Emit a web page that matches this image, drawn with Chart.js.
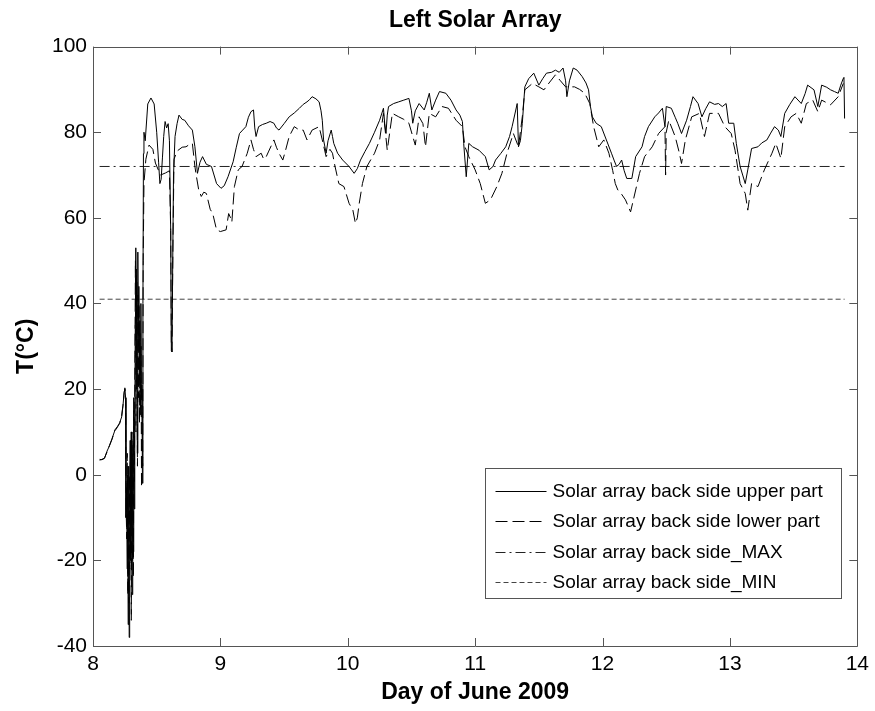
<!DOCTYPE html>
<html><head><meta charset="utf-8">
<script src="https://cdn.jsdelivr.net/npm/chart.js@4"></script>
<style>html,body{margin:0;padding:0;background:#fff}#wrap{width:875px;height:711px}</style>
</head><body><div id="wrap"><canvas id="c" width="875" height="711"></canvas></div>
<script>
// ---- data (day of June 2009, temperature °C) ----
const upperPart = [
[8.052,3.6],[8.07,3.5],[8.09,3.8],[8.11,5.5],[8.13,6.8],[8.15,8.5],[8.17,10.2],[8.19,11],[8.21,12.2],[8.225,13.5],[8.235,16],[8.245,19.5],[8.25,20.3],
[8.256,18],[8.259,-10],[8.264,-3],[8.268,-22],[8.272,0],[8.276,-35],[8.28,2],[8.284,-38],[8.288,-5],[8.292,8],[8.296,-20],[8.3,10],[8.304,-12],[8.308,-28],
[8.312,5],[8.316,-18],[8.32,18],[8.324,-8],[8.328,12],[8.332,35],[8.336,53],[8.34,20],[8.344,45],[8.348,5],[8.352,52],[8.356,30],[8.36,44],[8.364,22],
[8.368,36],[8.372,14],[8.376,40],[8.38,18],[8.384,21],[8.388,-2],[8.392,40],[8.396,75],[8.4,80],[8.41,78],[8.43,86.6],[8.455,88],[8.48,86.6],[8.5,80],
[8.515,73],[8.525,68],[8.535,69],[8.545,74],[8.555,79],[8.566,82.5],[8.578,81],[8.59,82],[8.6,78],[8.61,57],[8.615,29],[8.62,28.7],[8.626,50],[8.632,70],
[8.644,79],[8.66,82],[8.675,84],[8.7,83],[8.72,82.8],[8.75,81.5],[8.78,80.5],[8.8,76.6],[8.82,70.4],[8.84,73],[8.86,74.3],[8.89,72.5],[8.93,72],[8.97,68],
[9.005,66.9],[9.03,67.5],[9.06,69.6],[9.1,73.1],[9.125,76.5],[9.15,79.7],[9.175,80.5],[9.2,81.3],[9.22,83.5],[9.24,84.8],[9.26,85.2],[9.27,81],[9.28,79],
[9.3,81.3],[9.33,81.8],[9.36,82.1],[9.39,82.5],[9.42,82.1],[9.44,81],[9.46,80.5],[9.5,82],[9.54,83.6],[9.58,84.5],[9.62,85.6],[9.65,86.5],[9.68,87.1],
[9.7,87.6],[9.72,88.3],[9.75,87.8],[9.775,87.1],[9.79,85],[9.8,82.8],[9.81,78.2],[9.83,75.1],[9.845,78],[9.87,80.5],[9.88,79],[9.89,77.4],[9.92,75.1],
[9.96,73.5],[10.01,72],[10.05,70.4],[10.075,71.5],[10.1,73.5],[10.135,75.5],[10.17,77.4],[10.21,80],[10.25,82.8],[10.28,85.6],[10.29,82],[10.3,79.7],
[10.31,84],[10.32,86],[10.36,86.7],[10.4,87.1],[10.44,87.5],[10.48,87.9],[10.5,85],[10.51,82.1],[10.53,85],[10.56,86.7],[10.6,85.2],[10.62,87],[10.64,89.1],
[10.66,85.2],[10.69,87.5],[10.72,89.5],[10.77,89.1],[10.81,87.5],[10.85,85.2],[10.88,84],[10.9,82.5],[10.91,77.4],[10.93,69.6],[10.95,77.4],[10.98,76.6],
[11.03,75.8],[11.08,74.3],[11.11,71.2],[11.14,72],[11.16,73.5],[11.2,75],[11.24,76.6],[11.27,79],[11.29,81.3],[11.33,86.7],[11.34,76.6],[11.355,78],
[11.37,82],[11.39,90.6],[11.42,92.5],[11.46,93.8],[11.5,91],[11.53,92.5],[11.56,93.8],[11.6,94],[11.63,94.5],[11.66,94],[11.69,95],[11.71,92],[11.72,88.3],
[11.74,92],[11.77,95],[11.8,94.5],[11.84,93],[11.87,91.5],[11.89,89.9],[11.905,86],[11.92,83.6],[11.95,82.1],[11.99,81.3],[12.03,78.2],[12.07,75.1],
[12.09,73.5],[12.11,72],[12.13,72.5],[12.15,73.5],[12.17,71],[12.19,69.2],[12.23,69.2],[12.26,74.3],[12.31,76.6],[12.33,79],[12.36,81.3],[12.41,83.6],
[12.44,84.5],[12.47,85.6],[12.49,81.3],[12.5,86],[12.54,85.6],[12.57,83.5],[12.59,82.1],[12.62,79.7],[12.66,82.8],[12.69,86],[12.71,88.3],[12.75,86.7],
[12.78,83.6],[12.81,85.5],[12.84,87.1],[12.88,86.5],[12.91,86.7],[12.94,86],[12.97,86.7],[12.99,82.1],[13.03,82.1],[13.05,77.4],[13.08,72],[13.1,70],
[13.12,68],[13.14,71.2],[13.17,76.2],[13.22,76.6],[13.25,77.5],[13.29,78.2],[13.32,79.8],[13.35,81.3],[13.38,80.5],[13.4,79],[13.43,84.4],[13.47,86.5],
[13.51,88.3],[13.56,86.7],[13.59,89],[13.61,91],[13.66,89.9],[13.69,86],[13.72,91],[13.76,90.5],[13.79,89.9],[13.82,89.5],[13.85,89.1],[13.87,91],
[13.89,92.6],[13.895,92.8],[13.9,83.2]
];
const lowerPart = [
[8.052,3.4],[8.07,3.6],[8.09,3.9],[8.11,5.3],[8.13,6.9],[8.15,8.3],[8.17,10.4],[8.19,11.2],[8.21,12],[8.225,13.8],[8.235,16.2],[8.245,19.2],[8.25,20],
[8.256,17],[8.26,-8],[8.265,-15],[8.269,5],[8.273,-28],[8.277,-8],[8.281,-30],[8.285,0],[8.289,-22],[8.293,3],[8.297,-16],[8.301,-34],[8.305,10],
[8.309,-20],[8.313,8],[8.317,-24],[8.321,15],[8.325,-2],[8.329,28],[8.333,50],[8.337,10],[8.341,48],[8.345,25],[8.349,2],[8.353,42],[8.357,18],
[8.361,40],[8.365,12],[8.369,33],[8.373,15],[8.377,30],[8.381,-3],[8.385,20],[8.39,2],[8.394,50],[8.4,68],[8.415,73.7],[8.44,77],[8.47,76],[8.49,72.8],
[8.53,70],[8.57,70.5],[8.6,71],[8.61,57],[8.615,30],[8.62,29],[8.628,55],[8.636,73.7],[8.66,75.6],[8.7,76.5],[8.73,76.6],[8.75,77],[8.78,77.4],[8.8,72],
[8.81,70],[8.83,66.5],[8.85,65],[8.87,66],[8.89,65.7],[8.92,62],[8.94,61],[8.97,57.2],[9,56.8],[9.045,57.2],[9.065,61],[9.08,60],[9.09,59],[9.11,67.3],
[9.14,71.2],[9.17,72],[9.19,73.5],[9.21,75],[9.24,78.2],[9.26,76],[9.28,74.3],[9.32,75.1],[9.34,73.7],[9.36,74.3],[9.38,75.6],[9.42,78.2],[9.44,76.5],
[9.46,75.1],[9.49,73.5],[9.51,75.6],[9.54,79],[9.58,81.3],[9.62,80.5],[9.65,80.5],[9.68,78.2],[9.72,80.5],[9.775,81.3],[9.8,78.2],[9.83,74.3],[9.86,76],
[9.88,75.1],[9.9,72],[9.93,68],[9.97,67.3],[10.01,63.4],[10.04,61.8],[10.06,58.7],[10.075,60],[10.09,63.4],[10.115,68],[10.15,72],[10.21,75.1],[10.25,78.2],
[10.28,84.4],[10.31,75.8],[10.35,84.4],[10.4,83.6],[10.44,83],[10.48,82.1],[10.53,77],[10.56,83.6],[10.59,82],[10.61,76.6],[10.64,84.4],[10.69,83.6],
[10.74,86],[10.79,85.6],[10.85,82.8],[10.9,81.3],[10.92,76.6],[10.95,74.3],[11,71.2],[11.04,68],[11.08,63.4],[11.12,64.2],[11.17,67.3],[11.21,70.4],
[11.25,75.1],[11.3,79.7],[11.34,76.6],[11.37,83.6],[11.39,89.9],[11.45,91.4],[11.5,90.6],[11.54,89.9],[11.58,91.5],[11.63,93.4],[11.67,92],[11.71,90.6],
[11.78,90.6],[11.82,90],[11.86,89.1],[11.9,86.7],[11.93,81.3],[11.97,76.6],[12.01,78.2],[12.05,75.1],[12.08,71],[12.1,68],[12.12,66.5],[12.15,65.5],
[12.18,64.2],[12.22,61.4],[12.26,66.5],[12.29,70.4],[12.33,74.3],[12.39,76.6],[12.44,79.7],[12.49,81.3],[12.495,70],[12.5,80],[12.52,82.8],[12.57,79],
[12.6,75.5],[12.62,72.7],[12.65,78.2],[12.7,83.6],[12.76,84.4],[12.8,79],[12.84,84.4],[12.91,84.4],[12.96,81.3],[13.01,79.7],[13.04,75.8],[13.08,68],
[13.12,65.7],[13.14,61.8],[13.17,68],[13.22,67.3],[13.27,71.2],[13.33,75.1],[13.36,77.4],[13.4,73.9],[13.43,81.3],[13.48,83.6],[13.52,84.4],[13.56,82.1],
[13.6,86.7],[13.65,87.5],[13.69,84.8],[13.72,87.5],[13.79,86.4],[13.85,88.3],[13.89,91.4]
];
const limitDays = [8.052, 13.9];
const maxLimit = [72, 72];
const minLimit = [41, 41];
const xTickValues = [8, 9, 10, 11, 12, 13, 14];
const yTickValues = [-40, -20, 0, 20, 40, 60, 80, 100];
const seriesLabels = ['Solar array back side upper part', 'Solar array back side lower part', 'Solar array back side_MAX', 'Solar array back side_MIN'];

const FONT = 'Liberation Sans, Arial, Helvetica, sans-serif';
const toPts = arr => arr.map(p => ({x: p[0], y: p[1]}));
const limitPts = vals => limitDays.map((d, i) => ({x: d, y: vals[i]}));

const insideTicks = {
  id: 'insideTicks',
  afterDatasetsDraw(chart) {
    const {ctx, chartArea: a, scales} = chart;
    ctx.save();
    ctx.strokeStyle = '#555';
    ctx.lineWidth = 1;
    ctx.beginPath();
    ctx.rect(Math.round(a.left) + 0.5, Math.round(a.top) + 0.5, Math.round(a.right - a.left), Math.round(a.bottom - a.top));
    ctx.stroke();
    const L = 8;
    ctx.beginPath();
    xTickValues.forEach(v => {
      const px = Math.round(scales.x.getPixelForValue(v)) + 0.5;
      ctx.moveTo(px, a.bottom); ctx.lineTo(px, a.bottom - L);
      ctx.moveTo(px, a.top); ctx.lineTo(px, a.top + L);
    });
    yTickValues.forEach(v => {
      const py = Math.round(scales.y.getPixelForValue(v)) + 0.5;
      ctx.moveTo(a.left, py); ctx.lineTo(a.left + L, py);
      ctx.moveTo(a.right, py); ctx.lineTo(a.right - L, py);
    });
    ctx.stroke();
    ctx.restore();
  }
};

const boxLegend = {
  id: 'boxLegend',
  afterDraw(chart) {
    const {ctx, chartArea: a} = chart;
    const w = 356, h = 130;
    const x0 = Math.round(a.right - 16 - w) + 0.5, y0 = Math.round(a.bottom - 48 - h) + 0.5;
    ctx.save();
    ctx.fillStyle = '#fff';
    ctx.fillRect(x0, y0, w, h);
    ctx.strokeStyle = '#555';
    ctx.lineWidth = 1;
    ctx.strokeRect(x0, y0, w, h);
    ctx.font = '19px ' + FONT;
    ctx.textBaseline = 'middle';
    ctx.fillStyle = '#000';
    const rowH = 30.5;
    chart.data.datasets.forEach((ds, i) => {
      const cy = Math.round(y0 + 22 + i * rowH) + 0.5;
      ctx.beginPath();
      ctx.strokeStyle = ds.borderColor;
      ctx.lineWidth = 1;
      ctx.setLineDash(ds.borderDash || []);
      ctx.moveTo(x0 + 10, cy); ctx.lineTo(x0 + 61, cy);
      ctx.stroke();
      ctx.setLineDash([]);
      ctx.fillText(ds.label, x0 + 67, cy);
    });
    ctx.restore();
  }
};

const lineDs = (label, pts, dash, color) => ({
  label, data: pts, borderColor: color, borderWidth: 1, borderDash: dash,
  pointRadius: 0, tension: 0, fill: false
});

new Chart(document.getElementById('c'), {
  type: 'line',
  data: {
    datasets: [
      lineDs(seriesLabels[0], toPts(upperPart), [], '#000'),
      lineDs(seriesLabels[1], toPts(lowerPart), [12, 5], '#000'),
      lineDs(seriesLabels[2], limitPts(maxLimit), [10, 4, 2, 4], '#222'),
      lineDs(seriesLabels[3], limitPts(minLimit), [5, 3], '#444')
    ]
  },
  options: {
    responsive: false,
    animation: false,
    devicePixelRatio: 1,
    layout: {padding: {left: 0, right: 16, top: 0, bottom: 0}},
    plugins: {
      legend: {display: false},
      tooltip: {enabled: false},
      title: {
        display: true, text: 'Left Solar Array', color: '#000', fullSize: false,
        font: {family: FONT, size: 23, weight: 'bold'},
        padding: {top: 7, bottom: 12}
      }
    },
    scales: {
      x: {
        type: 'linear', min: 8, max: 14,
        afterFit: s => { s.height = 65; },
        afterBuildTicks: s => { s.ticks = xTickValues.map(v => ({value: v})); },
        grid: {display: false, drawTicks: false},
        border: {display: false},
        ticks: {color: '#000', padding: 6, font: {family: FONT, size: 21}, maxRotation: 0},
        title: {display: true, text: 'Day of June 2009', color: '#000', font: {family: FONT, size: 23, weight: 'bold'}, padding: {top: 0, bottom: 5}}
      },
      y: {
        type: 'linear', min: -40, max: 100,
        afterFit: s => { s.width = 93; },
        afterBuildTicks: s => { s.ticks = yTickValues.map(v => ({value: v})); },
        grid: {display: false, drawTicks: false},
        border: {display: false},
        ticks: {color: '#000', padding: 6, font: {family: FONT, size: 21}},
        title: {display: true, text: 'T(°C)', color: '#000', font: {family: FONT, size: 23, weight: 'bold'}, padding: {top: 13, bottom: 0}}
      }
    }
  },
  plugins: [insideTicks, boxLegend]
});
</script>
</body></html>
